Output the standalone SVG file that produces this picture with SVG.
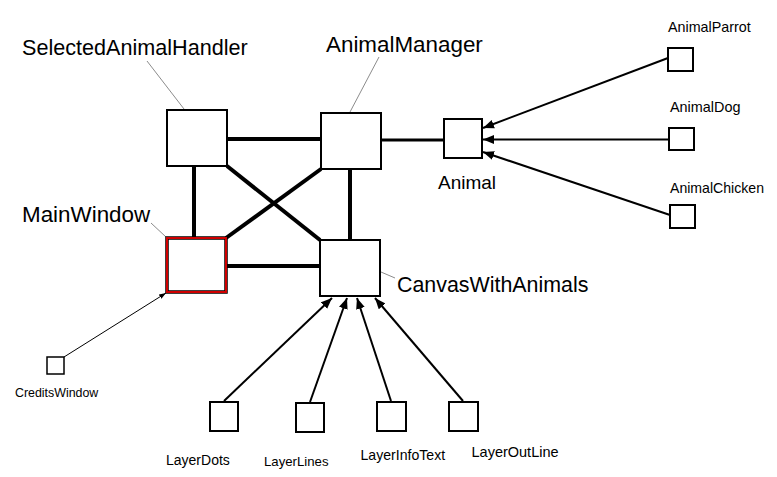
<svg xmlns="http://www.w3.org/2000/svg" width="777" height="477" viewBox="0 0 777 477">
<style>
.box{fill:#fff;stroke:#000;stroke-width:2}
.thick{stroke:#000;stroke-width:4;fill:none}
.arr{stroke:#000;stroke-width:2;fill:none;marker-end:url(#ah)}
.thin{stroke:#000;stroke-width:1;fill:none;marker-end:url(#ahs)}
.lead{stroke:#8c8c8c;stroke-width:1;fill:none}
text{font-family:"Liberation Sans",Arial,sans-serif;fill:#000}
</style>
<defs>
<marker id="ah" markerUnits="userSpaceOnUse" markerWidth="12" markerHeight="10" refX="11" refY="5" orient="auto"><path d="M0,0.5 L11,5 L0,9.5 Z" fill="#000"/></marker>
<marker id="ahs" markerUnits="userSpaceOnUse" markerWidth="8" markerHeight="6" refX="7" refY="3" orient="auto"><path d="M0,0.5 L7,3 L0,5.5 Z" fill="#000"/></marker>
</defs>
<rect width="777" height="477" fill="#fff"/>
<g id="connectors">
<line class="thick" x1="227" y1="139" x2="321" y2="139"/>
<line class="thick" x1="194" y1="166" x2="194" y2="238"/>
<line class="thick" x1="350" y1="169" x2="350" y2="240"/>
<line class="thick" x1="226" y1="266" x2="320" y2="266"/>
<line class="thick" x1="227" y1="166" x2="320" y2="240"/>
<line class="thick" x1="321" y1="169" x2="226" y2="238"/>
<line class="thick" x1="381" y1="140" x2="444" y2="140" style="stroke-width:3"/>
<line class="arr" x1="668" y1="58" x2="483" y2="128"/>
<line class="arr" x1="669" y1="139.5" x2="483" y2="139.5"/>
<line class="arr" x1="670" y1="215" x2="483" y2="152"/>
<line class="thin" x1="64" y1="357" x2="166" y2="293"/>
<line class="arr" x1="224" y1="401" x2="332" y2="298"/>
<line class="arr" x1="310" y1="402" x2="347" y2="298"/>
<line class="arr" x1="391" y1="401" x2="357" y2="298"/>
<line class="arr" x1="463" y1="401" x2="375" y2="298"/>
<line class="lead" x1="147" y1="61" x2="184" y2="109"/>
<line class="lead" x1="379" y1="57" x2="350" y2="112"/>
<line class="lead" x1="151" y1="223" x2="166" y2="237"/>
<line class="lead" x1="381" y1="272" x2="395" y2="278"/>
</g>
<g id="SelectedAnimalHandler">
<rect class="box" x="167" y="110" width="60" height="56"/>
<text x="22" y="55" font-size="21.6">SelectedAnimalHandler</text>
</g>
<g id="AnimalManager">
<rect class="box" x="321" y="113" width="60" height="56"/>
<text x="326" y="52" font-size="22.4">AnimalManager</text>
</g>
<g id="MainWindow">
<rect x="167" y="238" width="59" height="54" fill="#fff" stroke="#000" stroke-width="3.5"/>
<rect x="167" y="238" width="59" height="54" fill="none" stroke="#d00000" stroke-width="2"/>
<text x="22" y="222" font-size="22.4">MainWindow</text>
</g>
<g id="CanvasWithAnimals">
<rect class="box" x="320" y="240" width="60" height="56"/>
<text x="397" y="291.5" font-size="21.4">CanvasWithAnimals</text>
</g>
<g id="Animal">
<rect class="box" x="444" y="119" width="38" height="39"/>
<text x="438" y="189" font-size="19">Animal</text>
</g>
<g id="AnimalParrot">
<rect class="box" x="668" y="48" width="25" height="23"/>
<text x="668" y="31.5" font-size="14.3">AnimalParrot</text>
</g>
<g id="AnimalDog">
<rect class="box" x="669" y="128" width="25" height="22"/>
<text x="670" y="112" font-size="14.4">AnimalDog</text>
</g>
<g id="AnimalChicken">
<rect class="box" x="670" y="205" width="25" height="23"/>
<text x="670" y="192.5" font-size="14.1">AnimalChicken</text>
</g>
<g id="CreditsWindow">
<rect class="box" x="47" y="357" width="17" height="17" style="stroke-width:1.5"/>
<text x="15" y="396.5" font-size="12.4">CreditsWindow</text>
</g>
<g id="LayerDots">
<rect class="box" x="210" y="402" width="28" height="29"/>
<text x="166" y="465" font-size="14">LayerDots</text>
</g>
<g id="LayerLines">
<rect class="box" x="296" y="403" width="28" height="29"/>
<text x="264" y="466" font-size="13.2">LayerLines</text>
</g>
<g id="LayerInfoText">
<rect class="box" x="377" y="402" width="29" height="29"/>
<text x="360.5" y="460" font-size="14.1">LayerInfoText</text>
</g>
<g id="LayerOutLine">
<rect class="box" x="449" y="402" width="29" height="29"/>
<text x="471.5" y="457" font-size="14.5">LayerOutLine</text>
</g>
</svg>
